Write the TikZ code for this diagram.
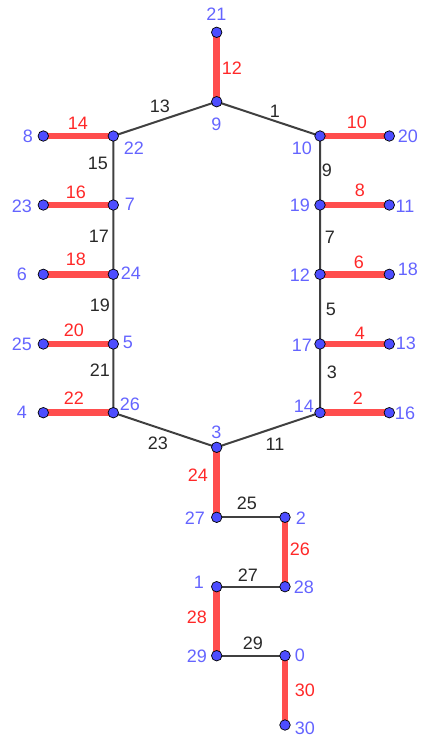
\documentclass[tikz,border=0pt]{standalone}
\usepackage{fontspec}
\setmainfont{Liberation Sans}
\pgfdeclarelayer{bg}
\pgfsetlayers{bg,main}
\definecolor{ptblue}{RGB}{77,77,255}
\definecolor{vlab}{RGB}{100,100,255}
\definecolor{redline}{RGB}{255,77,77}
\definecolor{rlab}{RGB}{255,40,40}
\definecolor{gline}{RGB}{64,64,64}
\definecolor{glab}{RGB}{40,40,40}
\begin{document}
\begin{tikzpicture}[x=1pt,y=-1pt,
  pt/.style={circle,fill=ptblue,draw=black,line width=0.7pt,inner sep=0pt,minimum size=10.5pt},
  redge/.style={draw=redline,line width=6.5pt},
  gedge/.style={draw=gline,line width=2pt},
  lab/.style={inner sep=0pt,font=\fontsize{18}{18}\selectfont},
  vl/.style={lab,text=vlab},
  rl/.style={lab,text=rlab},
  gl/.style={lab,text=glab}]
\useasboundingbox (0,0) rectangle (422,740);
% points
\node[pt] (n21) at (216.7,32.3) {};
\node[pt] (n9) at (216.7,101.7) {};
\node[pt] (n22) at (113.3,136) {};
\node[pt] (n8) at (43.3,136) {};
\node[pt] (n10) at (320,136) {};
\node[pt] (n20) at (389.3,136) {};
\node[pt] (n7) at (113.3,205) {};
\node[pt] (n23) at (43.3,205) {};
\node[pt] (n19) at (320,205) {};
\node[pt] (n11) at (389.3,205) {};
\node[pt] (n24) at (113.3,274.3) {};
\node[pt] (n6) at (43.3,274.3) {};
\node[pt] (n12) at (320,274.3) {};
\node[pt] (n18) at (389.3,274.3) {};
\node[pt] (n5) at (113.3,344) {};
\node[pt] (n25) at (43.3,344) {};
\node[pt] (n17) at (320,344) {};
\node[pt] (n13) at (389.3,344) {};
\node[pt] (n26) at (113.3,412.7) {};
\node[pt] (n4) at (43.3,412.7) {};
\node[pt] (n14) at (320,412.7) {};
\node[pt] (n16) at (389.3,412.7) {};
\node[pt] (n3) at (216.7,447.3) {};
\node[pt] (n27) at (216.7,517.3) {};
\node[pt] (n2) at (285,517.3) {};
\node[pt] (n1) at (216.7,586.7) {};
\node[pt] (n28) at (285,586.7) {};
\node[pt] (n29) at (216.7,655.7) {};
\node[pt] (n0) at (285,655.7) {};
\node[pt] (n30) at (285,725) {};
% edges
\begin{pgfonlayer}{bg}
\draw[redge] (n21.center) -- (n9.center);
\draw[redge] (n8.center) -- (n22.center);
\draw[redge] (n10.center) -- (n20.center);
\draw[redge] (n23.center) -- (n7.center);
\draw[redge] (n19.center) -- (n11.center);
\draw[redge] (n6.center) -- (n24.center);
\draw[redge] (n12.center) -- (n18.center);
\draw[redge] (n25.center) -- (n5.center);
\draw[redge] (n17.center) -- (n13.center);
\draw[redge] (n4.center) -- (n26.center);
\draw[redge] (n14.center) -- (n16.center);
\draw[redge] (n3.center) -- (n27.center);
\draw[redge] (n2.center) -- (n28.center);
\draw[redge] (n1.center) -- (n29.center);
\draw[redge] (n0.center) -- (n30.center);
\draw[gedge] (n22.center) -- (n9.center) -- (n10.center);
\draw[gedge] (n22.center) -- (n7.center) -- (n24.center) -- (n5.center) -- (n26.center) -- (n3.center);
\draw[gedge] (n10.center) -- (n19.center) -- (n12.center) -- (n17.center) -- (n14.center) -- (n3.center);
\draw[gedge] (n27.center) -- (n2.center);
\draw[gedge] (n1.center) -- (n28.center);
\draw[gedge] (n29.center) -- (n0.center);
\end{pgfonlayer}
% point labels
\node[vl] (l21) at (216.5,14) {21};
\node[vl] (l9) at (216.5,124) {9};
\node[vl] (l8) at (28,136) {8};
\node[vl] (l22) at (134,148) {22};
\node[vl] (l10) at (302,148) {10};
\node[vl] (l20) at (408,136) {20};
\node[vl] (l23) at (22,206) {23};
\node[vl] (l7) at (130,204) {7};
\node[vl] (l19) at (300,205) {19};
\node[vl] (l11) at (405,206) {11};
\node[vl] (l6) at (22,274) {6};
\node[vl] (l24) at (131,273) {24};
\node[vl] (l12) at (300,275) {12};
\node[vl] (l18) at (408,269) {18};
\node[vl] (l25) at (22,344) {25};
\node[vl] (l5) at (128,342) {5};
\node[vl] (l17) at (302,345) {17};
\node[vl] (l13) at (406,343) {13};
\node[vl] (l4) at (22,412) {4};
\node[vl] (l26) at (130,404) {26};
\node[vl] (l14) at (304,406) {14};
\node[vl] (l16) at (405,413) {16};
\node[vl] (l3) at (216.5,432) {3};
\node[vl] (l27) at (195,518) {27};
\node[vl] (l2) at (301,518) {2};
\node[vl] (l1) at (199,582) {1};
\node[vl] (l28) at (304,587) {28};
\node[vl] (l29) at (197,656) {29};
\node[vl] (l0) at (300,655) {0};
\node[vl] (l30) at (305,728) {30};
% red edge labels
\node[rl] (e12) at (232,68) {12};
\node[rl] (e14) at (78,123) {14};
\node[rl] (e10) at (357,122) {10};
\node[rl] (e16) at (76,192) {16};
\node[rl] (e8) at (360,190) {8};
\node[rl] (e18) at (76,259) {18};
\node[rl] (e6) at (359,262) {6};
\node[rl] (e20) at (74,330) {20};
\node[rl] (e4) at (360,333) {4};
\node[rl] (e22) at (74,398) {22};
\node[rl] (e2) at (358,398) {2};
\node[rl] (e24) at (198,475) {24};
\node[rl] (e26) at (300,549) {26};
\node[rl] (e28) at (197,617) {28};
\node[rl] (e30) at (305,690) {30};
% grey edge labels
\node[gl] (g13) at (160,106) {13};
\node[gl] (g1) at (275,111) {1};
\node[gl] (g15) at (98,163) {15};
\node[gl] (g9) at (327,170) {9};
\node[gl] (g17) at (99,236) {17};
\node[gl] (g7) at (330,237) {7};
\node[gl] (g19) at (100,305) {19};
\node[gl] (g5) at (331,309) {5};
\node[gl] (g21) at (100,370) {21};
\node[gl] (g3) at (332,372) {3};
\node[gl] (g23) at (158,443) {23};
\node[gl] (g11) at (275,444) {11};
\node[gl] (g25) at (247,503) {25};
\node[gl] (g27) at (248,575) {27};
\node[gl] (g29) at (253,643) {29};
\end{tikzpicture}
\end{document}
